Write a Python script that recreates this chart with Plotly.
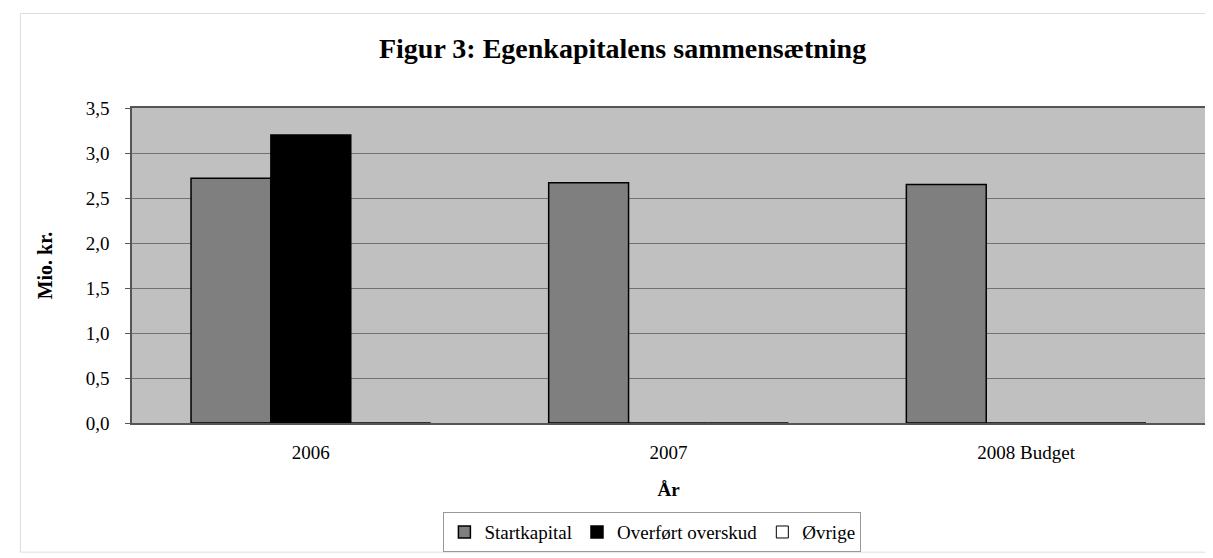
import plotly.graph_objects as go

categories = ["2006", "2007", "2008 Budget"]
startkapital = [2.72, 2.67, 2.65]
overfort_overskud = [3.2, 0, 0]
ovrige = [0, 0, 0]
y_ticks = [0, 0.5, 1.0, 1.5, 2.0, 2.5, 3.0, 3.5]
y_tick_labels = ["0,0", "0,5", "1,0", "1,5", "2,0", "2,5", "3,0", "3,5"]

FONT = "Liberation Serif"

fig = go.Figure()
fig.add_trace(go.Bar(name="Startkapital", x=categories, y=startkapital,
                     marker=dict(color="#7f7f7f", line=dict(color="black", width=1.5))))
fig.add_trace(go.Bar(name="Overført overskud", x=categories, y=overfort_overskud,
                     marker=dict(color="black", line=dict(color="black", width=1.5))))
fig.add_trace(go.Bar(name="Øvrige", x=categories, y=ovrige,
                     marker=dict(color="white", line=dict(color="black", width=1))))

fig.update_layout(
    width=1205, height=550,
    margin=dict(l=124, r=6, t=100, b=133),
    paper_bgcolor="white",
    plot_bgcolor="#c0c0c0",
    barmode="group",
    bargap=0.33,
    bargroupgap=0,
    font=dict(family=FONT, color="black", size=19),
    title=dict(text="<b>Figur 3: Egenkapitalens sammensætning</b>",
               x=0.51, xanchor="center", y=0.927, yanchor="middle",
               font=dict(family=FONT, size=28, color="black")),
    showlegend=True,
    legend=dict(orientation="h", x=0.485, xanchor="center", y=-0.41, yanchor="bottom",
                font=dict(family=FONT, size=19, color="black"),
                bordercolor="#999999", borderwidth=1, bgcolor="white",
                itemwidth=30, tracegroupgap=0),
    xaxis=dict(title=dict(text="<b>År</b>", font=dict(family=FONT, size=19), standoff=21),
               showline=True, linecolor="#555555", linewidth=1.5, mirror=True,
               ticks="", ticklabelstandoff=11,
               tickfont=dict(family=FONT, size=19), showgrid=False),
    yaxis=dict(title=dict(text="<b>Mio. kr.</b>", font=dict(family=FONT, size=20), standoff=28),
               range=[0, 3.5], tickvals=y_ticks, ticktext=y_tick_labels,
               showgrid=True, gridcolor="#727272", gridwidth=1,
               showline=True, linecolor="#555555", linewidth=1.5, mirror=True,
               ticks="outside", ticklen=5, tickcolor="#555555", ticklabelstandoff=12,
               tickfont=dict(family=FONT, size=19), zeroline=False),
)
fig.add_shape(type="rect", xref="paper", yref="paper", x0=-0.104, x1=1.004, y0=-0.41, y1=1.3,
              line=dict(color="#dddddd", width=1), fillcolor="rgba(0,0,0,0)", layer="below")

fig.write_html("out.html")
